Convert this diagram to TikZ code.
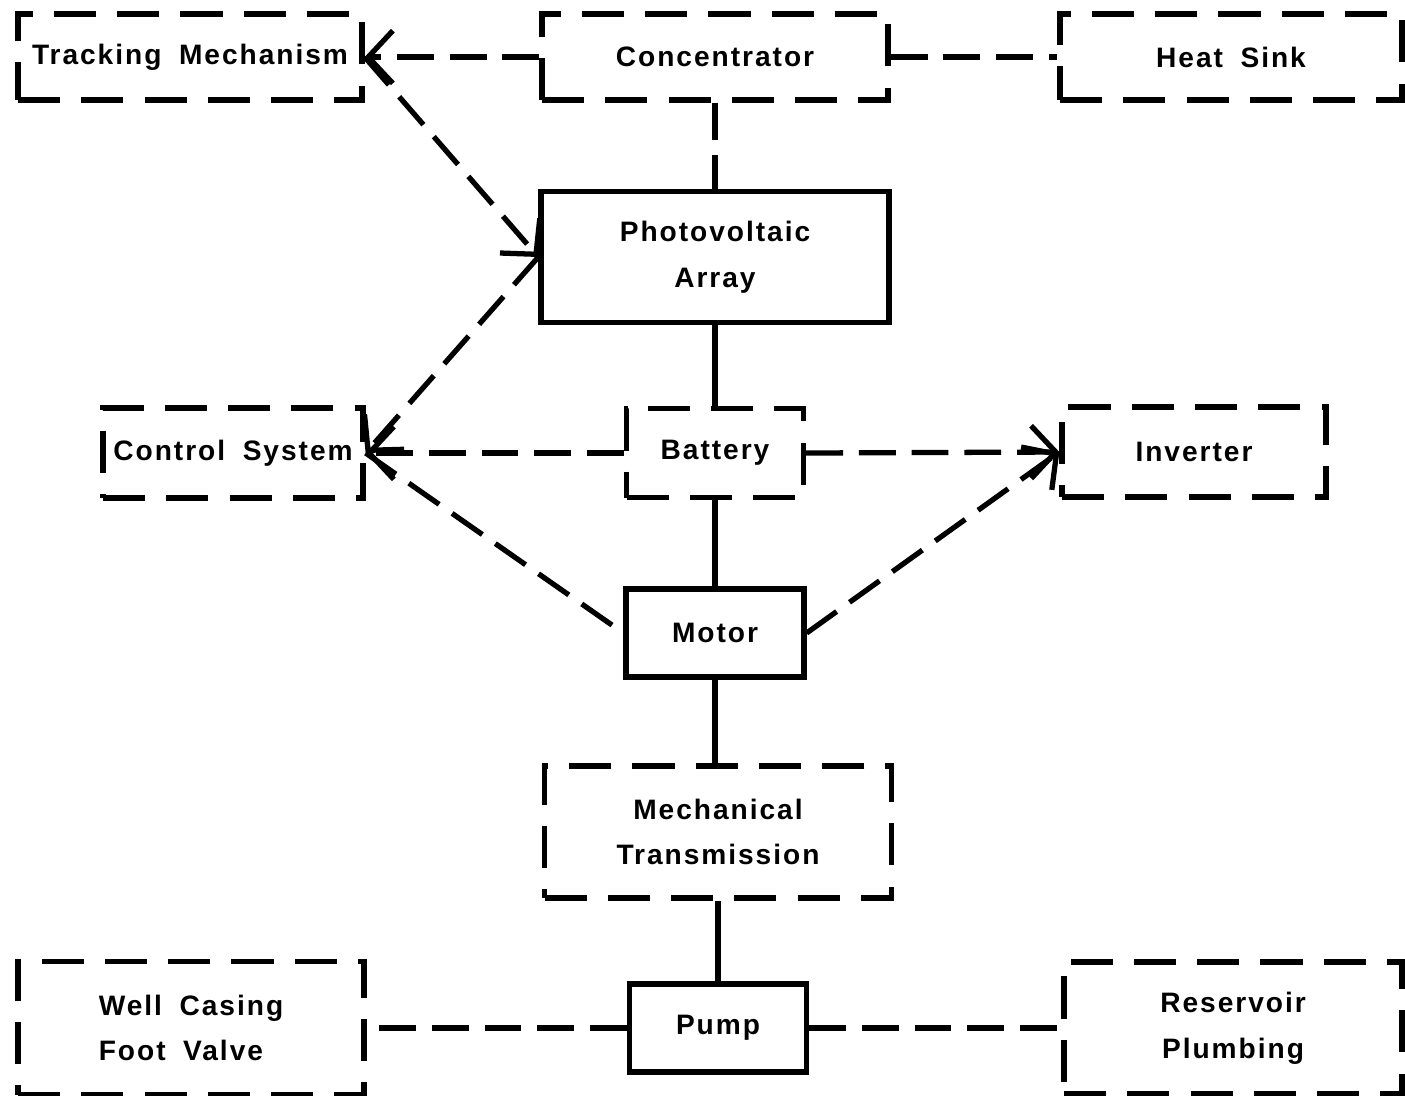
\documentclass[tikz,border=0pt]{standalone}
\usepackage{fontspec}
\setmainfont{Liberation Sans}[LetterSpace=7,WordSpace=1.8]
\usetikzlibrary{arrows.meta}
\tikzset{
  dashbox/.style={draw,line width=1.5pt,dash pattern=on 12pt off 6pt,inner sep=0pt},
  solidbox/.style={draw,line width=1.5pt,inner sep=0pt},
  link/.style={line width=1.5pt,dash pattern=on 10.5pt off 4.5pt},
  wire/.style={line width=1.5pt},
  tip/.style={-{Straight Barb[length=7pt,width=15pt,line width=1.5pt]}}
}
\begin{document}
\begin{tikzpicture}[x=0.1mm,y=-0.1mm,font=\fontsize{8}{13}\selectfont\bfseries]
\useasboundingbox (0,0) rectangle (1405,1095);
% top row
\node[dashbox,minimum width=34.4mm,minimum height=8.6mm] (track) at (190,57) {Tracking Mechanism};
\node[dashbox,minimum width=34.6mm,minimum height=8.6mm] (conc) at (715,57) {Concentrator};
\node[dashbox,minimum width=34.2mm,minimum height=8.6mm] (sink) at (1231,57) {Heat Sink};
\node[solidbox,minimum width=34.8mm,minimum height=13.1mm,align=center] (pv) at (715,257) {Photovoltaic\\Array};
% middle row
\node[dashbox,minimum width=26mm,minimum height=9mm] (ctrl) at (233,453) {Control System};
\node[dashbox,minimum width=17.7mm,minimum height=8.9mm] (batt) at (715,453) {Battery};
\node[dashbox,minimum width=26.4mm,minimum height=9mm] (inv) at (1194,452) {Inverter};
\node[solidbox,minimum width=17.8mm,minimum height=8.8mm] (motor) at (715,633) {Motor};
% bottom
\node[dashbox,minimum width=34.7mm,minimum height=13.2mm,align=center] (mech) at (718,832) {Mechanical\\Transmission};
\node[dashbox,minimum width=34.6mm,minimum height=13.3mm,align=left] (well) at (191,1028) {Well Casing\\Foot Valve};
\node[solidbox,minimum width=17.7mm,minimum height=8.8mm] (pump) at (718,1028) {Pump};
\node[dashbox,minimum width=33.8mm,minimum height=13.2mm,align=center] (res) at (1233,1028) {Reservoir\\Plumbing};
% connectors
\draw[link,tip] (conc.west) -- (track.east);
\draw[link] (conc.east) -- (sink.west);
\draw[link] (conc.south) -- (pv.north);
\draw[link,tip] (track.east) -- (pv.west);
\draw[link,tip] (pv.west) -- (ctrl.east);
\draw[link,tip] (batt.west) -- (ctrl.east);
\draw[link] (ctrl.east) -- (motor.west);
\draw[link,tip] (batt.east) -- (inv.west);
\draw[link,tip] (motor.east) -- (inv.west);
\draw[wire] (pv.south) -- (batt.north);
\draw[wire] (batt.south) -- (motor.north);
\draw[wire] (motor.south) -- (motor.south |- mech.north);
\draw[wire] (mech.south) -- (pump.north);
\draw[link] (pump.west) -- (well.east);
\draw[link] (pump.east) -- (res.west);
\end{tikzpicture}
\end{document}
